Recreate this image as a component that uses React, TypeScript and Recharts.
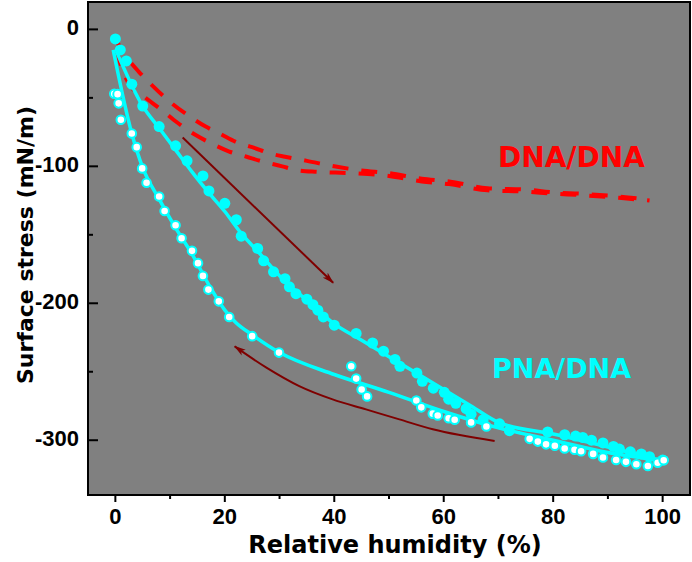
import React from 'react';
import { ComposedChart, Line, Scatter, XAxis, YAxis, ReferenceArea } from 'recharts';

// axis ticks
const xTicks = [0, 10, 20, 30, 40, 50, 60, 70, 80, 90, 100];
const xLabelTicks = [0, 20, 40, 60, 80, 100];
const yTicks = [0, -50, -100, -150, -200, -250, -300];
const yLabelTicks = [0, -100, -200, -300];

// PNA/DNA, increasing humidity (filled circles)
const adsorptionPoints = [
  { x: 0, y: -7 }, { x: 0.9, y: -15 }, { x: 2, y: -23 }, { x: 3, y: -40 },
  { x: 5, y: -56 }, { x: 8, y: -71 }, { x: 11, y: -85 }, { x: 13.1, y: -96 },
  { x: 16, y: -107 }, { x: 17.1, y: -118 }, { x: 20, y: -127 }, { x: 22.1, y: -139 },
  { x: 23, y: -151 }, { x: 26, y: -160 }, { x: 27.1, y: -169 }, { x: 28.9, y: -177 },
  { x: 31, y: -182 }, { x: 31.8, y: -188 }, { x: 33, y: -193 }, { x: 35, y: -197 },
  { x: 36.1, y: -201 }, { x: 37, y: -205 }, { x: 38, y: -210 }, { x: 40, y: -216 },
  { x: 44, y: -222 }, { x: 47, y: -229 }, { x: 49, y: -235 }, { x: 51.1, y: -241 },
  { x: 52, y: -246 }, { x: 55.1, y: -251 }, { x: 56.1, y: -257 }, { x: 58.1, y: -262 },
  { x: 60.1, y: -265 }, { x: 60.9, y: -270 }, { x: 62.2, y: -273 }, { x: 64.1, y: -277 },
  { x: 65, y: -281 }, { x: 67.2, y: -285 }, { x: 70.2, y: -288 }, { x: 72, y: -293 },
  { x: 79, y: -294 }, { x: 82.1, y: -296 }, { x: 84.1, y: -297 }, { x: 85.4, y: -298 },
  { x: 87, y: -300 }, { x: 89.1, y: -302 }, { x: 91, y: -304.5 }, { x: 92.1, y: -306.5 },
  { x: 94.1, y: -308.5 }, { x: 96.1, y: -310 }, { x: 97.6, y: -312 }, { x: 100, y: -314.5 },
];

// PNA/DNA, decreasing humidity (open circles)
const desorptionPoints = [
  { x: -0.2, y: -47 }, { x: 0.4, y: -47.3 }, { x: 0.6, y: -54 }, { x: 1, y: -66 },
  { x: 3, y: -76 }, { x: 3.9, y: -86 }, { x: 4.9, y: -101.5 }, { x: 5.7, y: -112 },
  { x: 8, y: -122 }, { x: 9, y: -132.6 }, { x: 11, y: -143 }, { x: 12.1, y: -152.5 },
  { x: 14, y: -161.7 }, { x: 15.1, y: -170.7 }, { x: 16, y: -180 }, { x: 17, y: -190 },
  { x: 18.9, y: -198.6 }, { x: 20.8, y: -210 }, { x: 25, y: -224 }, { x: 29.9, y: -236 },
  { x: 43.1, y: -246 }, { x: 44, y: -255 }, { x: 45, y: -263 }, { x: 46, y: -268 },
  { x: 55, y: -271 }, { x: 55.9, y: -276 }, { x: 58, y: -280.6 }, { x: 58.9, y: -282 },
  { x: 60.9, y: -284 }, { x: 62, y: -285 }, { x: 65, y: -287 }, { x: 67.8, y: -290 },
  { x: 75.7, y: -299 }, { x: 77.2, y: -301 }, { x: 78.7, y: -303 }, { x: 80.3, y: -304 },
  { x: 82.1, y: -306 }, { x: 83.9, y: -307 }, { x: 85.1, y: -308 }, { x: 87.3, y: -310 },
  { x: 89.1, y: -312.6 }, { x: 91.5, y: -314.4 }, { x: 93.3, y: -315.8 }, { x: 95.2, y: -317.5 },
  { x: 97.3, y: -318.8 }, { x: 99.1, y: -316.5 }, { x: 100.2, y: -314.6 },
];

const adsorptionFit = [
  { x: 0.2, y: -16 }, { x: 5, y: -56 }, { x: 8, y: -72 }, { x: 11, y: -88 },
  { x: 14, y: -104 }, { x: 17, y: -119 }, { x: 20, y: -133 }, { x: 23, y: -149 },
  { x: 26, y: -162 }, { x: 30, y: -180 }, { x: 35, y: -198 }, { x: 40, y: -215 },
  { x: 45, y: -227 }, { x: 50, y: -239 }, { x: 55, y: -251 }, { x: 60, y: -263 },
  { x: 65, y: -275 }, { x: 70, y: -287 }, { x: 80, y: -295.5 }, { x: 90, y: -305 },
  { x: 100, y: -315 },
];

const desorptionFit = [
  { x: -0.4, y: -15 }, { x: 3, y: -76 }, { x: 5, y: -101 }, { x: 8, y: -124 },
  { x: 11, y: -145 }, { x: 14, y: -164 }, { x: 17, y: -186 }, { x: 20, y: -205 },
  { x: 22, y: -214 }, { x: 25, y: -223 }, { x: 30, y: -236 }, { x: 40, y: -252 },
  { x: 50, y: -265 }, { x: 60, y: -279 }, { x: 70, y: -291 }, { x: 80, y: -300 },
  { x: 90, y: -309 }, { x: 100, y: -315 },
];

// DNA/DNA, two dashed runs
const dnaUpper = [
  { x: 0, y: -7 }, { x: 2, y: -20 }, { x: 4.3, y: -31 }, { x: 7, y: -42 },
  { x: 10, y: -53 }, { x: 13, y: -62 }, { x: 16.5, y: -71 }, { x: 19, y: -76 },
  { x: 22.5, y: -83 }, { x: 25, y: -86 }, { x: 28.6, y: -91 }, { x: 31, y: -93 },
  { x: 35, y: -96 }, { x: 40, y: -100 }, { x: 45, y: -103 }, { x: 50, y: -105 },
  { x: 56, y: -109 }, { x: 61, y: -111 }, { x: 68, y: -116 }, { x: 75, y: -117 },
  { x: 80, y: -119 }, { x: 85, y: -120 }, { x: 92, y: -122 }, { x: 97.6, y: -124.5 },
];
const dnaLower = [
  { x: 0.3, y: -15 }, { x: 1, y: -26 }, { x: 2.7, y: -41 }, { x: 5.2, y: -49 },
  { x: 8.5, y: -59 }, { x: 11.3, y: -68 }, { x: 14.6, y: -77 }, { x: 17.4, y: -83 },
  { x: 20.7, y: -89 }, { x: 24, y: -93 }, { x: 27, y: -96.6 }, { x: 30.5, y: -100 },
  { x: 33, y: -102.7 }, { x: 37, y: -104 }, { x: 43, y: -105 }, { x: 50, y: -107 },
  { x: 56, y: -111 }, { x: 61, y: -113 }, { x: 68, y: -117.5 }, { x: 75, y: -118.5 },
  { x: 80, y: -120 }, { x: 85, y: -121 }, { x: 92, y: -123 }, { x: 97.6, y: -125 },
];

// direction arrows
const arrowForward = [{ x: 12.3, y: -79 }, { x: 39.8, y: -185 }];
const arrowBack = [
  { x: 21.8, y: -231.5 }, { x: 27.6, y: -247 }, { x: 33.6, y: -260.5 }, { x: 39.7, y: -270.2 },
  { x: 45.8, y: -277.5 }, { x: 51.9, y: -284.8 }, { x: 58, y: -292 }, { x: 69.3, y: -300.5 },
];

const CYAN = '#00ffff';
const RED = '#ff0000';
const ARROW = '#7f0000';
const tickFont = '"Liberation Sans", Arial, sans-serif';
const titleFont = '"Comic Sans MS", "DejaVu Sans", sans-serif';

const XTick = (props: any) => {
  const { x, y, payload } = props;
  const major = xLabelTicks.includes(payload.value);
  return (
    <g>
      <line x1={x} x2={x} y1={y} y2={y + (major ? 7 : 4)} stroke="#000" strokeWidth={2} />
      {major && (
        <text x={x} y={y + 29} textAnchor="middle" fontFamily={tickFont} fontWeight="bold" fontSize={22} fill="#000">
          {payload.value}
        </text>
      )}
    </g>
  );
};

const YTick = (props: any) => {
  const { x, y, payload } = props;
  const major = yLabelTicks.includes(payload.value);
  return (
    <g>
      <line x1={x} x2={x + (major ? 10 : 5)} y1={y} y2={y} stroke="#000" strokeWidth={2} />
      {major && (
        <text x={x - 9} y={y + 6} textAnchor="end" fontFamily={tickFont} fontWeight="bold" fontSize={22} fill="#000">
          {payload.value}
        </text>
      )}
    </g>
  );
};

const FilledDot = (props: any) => <circle cx={props.cx} cy={props.cy} r={5.5} fill={CYAN} />;
const OpenDot = (props: any) => (
  <circle cx={props.cx} cy={props.cy} r={4.3} fill="#ffffff" stroke={CYAN} strokeWidth={2} />
);

export default function App() {
  return (
    <div style={{ position: 'absolute', left: 0, top: 0, width: 692, height: 562, background: '#fff' }}>
      <ComposedChart width={692} height={562} margin={{ top: 2, right: 2, left: 0, bottom: 0 }}>
        <defs>
          <marker id="arrowEnd" viewBox="0 0 12 8" refX="11" refY="4" markerWidth="12" markerHeight="8"
            markerUnits="userSpaceOnUse" orient="auto">
            <path d="M0,0.5 L12,4 L0,7.5 L3,4 z" fill={ARROW} />
          </marker>
          <marker id="arrowStart" viewBox="0 0 12 8" refX="11" refY="4" markerWidth="12" markerHeight="8"
            markerUnits="userSpaceOnUse" orient="auto-start-reverse">
            <path d="M0,0.5 L12,4 L0,7.5 L3,4 z" fill={ARROW} />
          </marker>
        </defs>
        <XAxis
          type="number"
          dataKey="x"
          domain={[-5, 105]}
          ticks={xTicks}
          interval={0}
          height={67}
          tickSize={0}
          tickMargin={0}
          tickLine={false}
          axisLine={{ stroke: '#000', strokeWidth: 2 }}
          tick={<XTick />}
          allowDataOverflow
        />
        <YAxis
          type="number"
          dataKey="y"
          domain={[-340, 20]}
          ticks={yTicks}
          interval={0}
          width={88}
          tickSize={0}
          tickMargin={0}
          tickLine={false}
          axisLine={{ stroke: '#000', strokeWidth: 2 }}
          tick={<YTick />}
          allowDataOverflow
        />
        <ReferenceArea x1={-5} x2={105} y1={-340} y2={20} fill="#808080" fillOpacity={1}
          stroke="#000" strokeWidth={2} />

        <Line data={dnaUpper} dataKey="y" type="monotone" stroke={RED} strokeWidth={4}
          strokeDasharray="16 13" dot={false} isAnimationActive={false} />
        <Line data={dnaLower} dataKey="y" type="monotone" stroke={RED} strokeWidth={4}
          strokeDasharray="16 13" dot={false} isAnimationActive={false} />

        <Line data={arrowForward} dataKey="y" type="linear" stroke={ARROW} strokeWidth={2}
          dot={false} markerEnd="url(#arrowEnd)" isAnimationActive={false} />
        <Line data={arrowBack} dataKey="y" type="monotone" stroke={ARROW} strokeWidth={2}
          dot={false} markerStart="url(#arrowStart)" isAnimationActive={false} />

        <Line data={adsorptionFit} dataKey="y" type="monotone" stroke={CYAN} strokeWidth={3.5}
          dot={false} isAnimationActive={false} />
        <Line data={desorptionFit} dataKey="y" type="monotone" stroke={CYAN} strokeWidth={3.5}
          dot={false} isAnimationActive={false} />

        <Scatter data={adsorptionPoints} dataKey="y" shape={<FilledDot />} isAnimationActive={false} />
        <Scatter data={desorptionPoints} dataKey="y" shape={<OpenDot />} isAnimationActive={false} />
      </ComposedChart>

      <div style={{ position: 'absolute', left: 395, top: 531, transform: 'translateX(-50%)', whiteSpace: 'nowrap',
        fontFamily: titleFont, fontWeight: 'bold', fontSize: 24, color: '#000', lineHeight: 'normal' }}>
        Relative humidity (%)
      </div>
      <div style={{ position: 'absolute', left: 25, top: 245, transform: 'translate(-50%, -50%) rotate(-90deg)',
        whiteSpace: 'nowrap', fontFamily: titleFont, fontWeight: 'bold', fontSize: 22, color: '#000', lineHeight: 'normal' }}>
        Surface stress (mN/m)
      </div>
      <div style={{ position: 'absolute', left: 498, top: 141, whiteSpace: 'nowrap', fontFamily: titleFont,
        fontWeight: 'bold', fontSize: 28, color: RED, lineHeight: 'normal' }}>
        DNA/DNA
      </div>
      <div style={{ position: 'absolute', left: 492, top: 353, whiteSpace: 'nowrap', fontFamily: titleFont,
        fontWeight: 'bold', fontSize: 27, color: CYAN, lineHeight: 'normal' }}>
        PNA/DNA
      </div>
    </div>
  );
}
